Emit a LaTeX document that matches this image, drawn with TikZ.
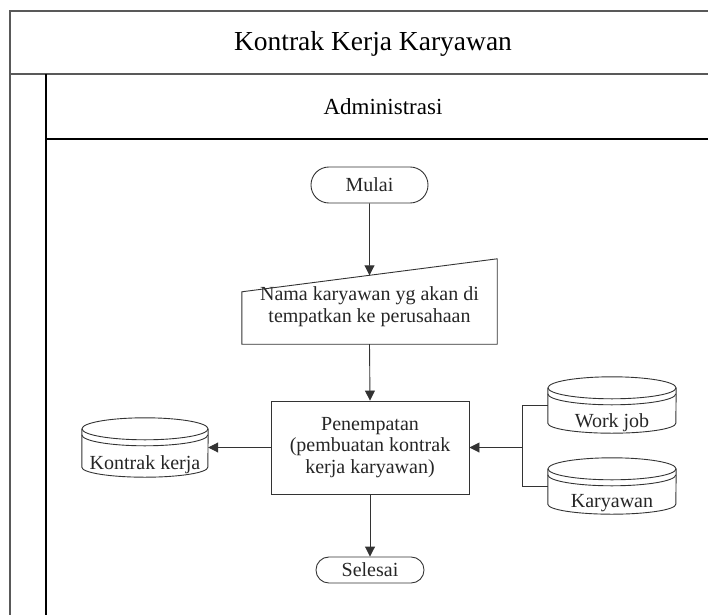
\documentclass[tikz,border=0pt]{standalone}
\usepackage{fontspec}
\setmainfont{Liberation Serif}
\usetikzlibrary{arrows.meta,calc}

% cylinder outline (stored data) around an invisible node: #1 node name, #2 half width
\newcommand{\datastore}[2]{%
  \draw[flowline] ([yshift=-11pt]#1.north) ellipse [x radius=#2pt, y radius=11pt];
  \draw[flowline] ([yshift=-17pt]#1.north west) arc [start angle=180, end angle=360, x radius=#2pt, y radius=11pt];
  \draw[flowline] ([yshift=-11pt]#1.north west) -- ([yshift=10pt]#1.south west)
    arc [start angle=180, end angle=360, x radius=#2pt, y radius=10pt]
    -- ([yshift=-11pt]#1.north east);
}

\begin{document}
\begin{tikzpicture}[x=1pt, y=1pt,
  flowline/.style={draw=black!80, line width=0.9pt},
  flowarrow/.style={flowline, -{Triangle[length=10pt, width=10pt]}},
  bodytext/.style={font=\fontsize{20}{21.5}\selectfont, text=black!85},
  terminal/.style={flowline, bodytext, inner sep=0pt},
  process/.style={flowline, bodytext, align=center, inner sep=0pt},
  storebox/.style={inner sep=0pt},
  storetext/.style={bodytext, inner sep=0pt, yshift=-17.5pt},
  framethin/.style={draw=black!65, line width=1.3pt},
  framethick/.style={draw=black!65, line width=2.6pt},
  laneline/.style={draw=black, line width=1.1pt}
]
\useasboundingbox (0,0) rectangle (708,614);

% pool and lane frame
\draw[framethin] (10,-5) -- (10,603) -- (715,603);
\draw[framethick] (10,540) -- (715,540);
\draw[laneline] (46,540) -- (46,-5);
\draw[laneline] (46,475) -- (715,475);

\node[anchor=base, font=\fontsize{27.5}{30}\selectfont, text=black] (pool) at (373,563) {Kontrak Kerja Karyawan};
\node[anchor=base, font=\fontsize{23}{25}\selectfont, text=black] (lane) at (383,499) {Administrasi};

% flow
\node[terminal, rounded corners=17.9pt, minimum width=117pt, minimum height=36pt] (start) at (369.5,429) {Mulai};

\node[storebox, minimum width=255pt, minimum height=85pt,
  label={[name=inputtext, bodytext, align=center, yshift=-5pt]center:Nama karyawan yg akan di\\tempatkan ke perusahaan}]
  (input) at (369.5,312.5) {};
\draw[flowline] (input.south west) -- ([yshift=-33pt]input.north west) -- (input.north east)
  -- (input.south east) -- cycle;
\coordinate (inputtop) at ($([yshift=-33pt]input.north west)!0.5!(input.north east)$);

\node[process, minimum width=198pt, minimum height=93pt] (place) at (370,166.5)
  {Penempatan\\(pembuatan kontrak\\kerja karyawan)};

\node[terminal, rounded corners=12.9pt, minimum width=108pt, minimum height=26pt] (end) at (370,44) {Selesai};

% data stores
\node[storebox, minimum width=126pt, minimum height=59pt,
  label={[name=contracttext, storetext]center:Kontrak kerja}] (contract) at (145,166.5) {};
\datastore{contract}{63}

\node[storebox, minimum width=128pt, minimum height=56pt,
  label={[name=jobtext, storetext]center:Work job}] (job) at (612,209) {};
\datastore{job}{64}

\node[storebox, minimum width=128pt, minimum height=56pt,
  label={[name=staffttext, storetext]center:Karyawan}] (staff) at (612,128) {};
\datastore{staff}{64}

\coordinate (merge) at (522,166.5);

% connectors
\draw[flowarrow] (start.south) -- (inputtop);
\draw[flowarrow] (input.south) -- (place.north);
\draw[flowarrow] (place.west) -- (contract.east);
\draw[flowline] (job.west) -| (merge) |- (staff.west);
\draw[flowarrow] (merge) -- (place.east);
\draw[flowarrow] (place.south) -- (end.north);
\end{tikzpicture}
\end{document}
